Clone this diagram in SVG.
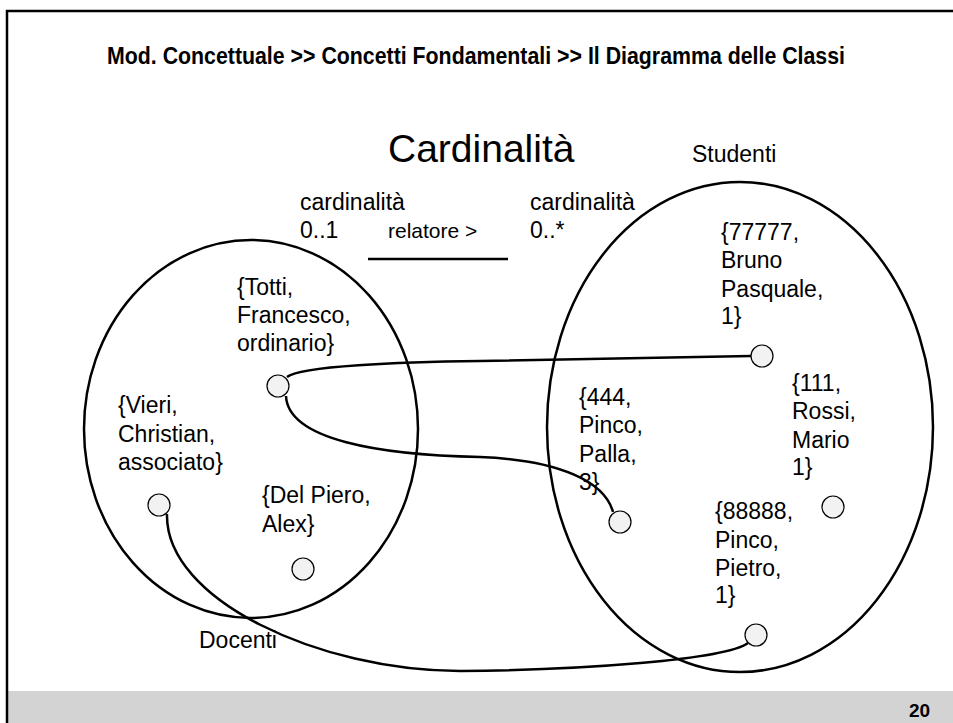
<svg xmlns="http://www.w3.org/2000/svg" width="953" height="723" viewBox="0 0 953 723">
  <style>
    text { font-family: "Liberation Sans", Arial, sans-serif; fill: #000; }
    .hdr { font-size: 23px; font-weight: bold; }
    .title { font-size: 39px; }
    .lbl { font-size: 23px; }
    .rel { font-size: 21px; }
    .pg { font-size: 19px; font-weight: bold; }
    .set { fill: none; stroke: #000; stroke-width: 2.5; }
    .obj { fill: #f2f2f2; stroke: #000; stroke-width: 1.2; }
    .link { fill: none; stroke: #000; stroke-width: 2.5; }
  </style>

  <!-- slide frame and footer -->
  <rect x="0" y="0" width="953" height="723" fill="#fff"/>
  <rect x="7" y="691" width="946" height="32" fill="#d3d3d3"/>
  <path d="M7,723 V11 H953" fill="none" stroke="#000" stroke-width="2.5"/>
  <text class="pg" x="909" y="717">20</text>

  <text class="hdr" x="107" y="64" textLength="738" lengthAdjust="spacingAndGlyphs">Mod. Concettuale &gt;&gt; Concetti Fondamentali &gt;&gt; Il Diagramma delle Classi</text>
  <text class="title" x="388" y="162">Cardinalità</text>

  <!-- association labels -->
  <g id="assoc">
    <text class="lbl" x="300" y="210">cardinalità</text>
    <text class="lbl" x="300" y="238">0..1</text>
    <text class="rel" x="388" y="238">relatore &gt;</text>
    <line x1="368" y1="259" x2="508" y2="259" stroke="#000" stroke-width="2.5"/>
    <text class="lbl" x="530" y="210">cardinalità</text>
    <text class="lbl" x="530" y="238">0..*</text>
  </g>

  <!-- sets -->
  <g id="docenti">
    <ellipse class="set" cx="251" cy="429" rx="167" ry="189"/>
    <text class="lbl" x="199" y="648">Docenti</text>
  </g>
  <g id="studenti">
    <ellipse class="set" cx="740" cy="427" rx="193" ry="245"/>
    <text class="lbl" x="692" y="162">Studenti</text>
  </g>

  <!-- links between objects -->
  <g id="links">
    <path class="link" d="M287,377 C300,366 400,362 480,361 L751,356"/>
    <path class="link" d="M286,396 C288,440 380,455 480,457 C560,460 605,482 613,512"/>
    <path class="link" d="M167,514 C165,600 320,671 460,671 C580,670 725,660 748,643"/>
  </g>

  <!-- Docenti objects -->
  <g id="totti">
    <text class="lbl" x="237" y="295">{Totti,</text>
    <text class="lbl" x="237" y="323">Francesco,</text>
    <text class="lbl" x="237" y="351">ordinario}</text>
    <circle class="obj" cx="278" cy="386" r="11"/>
  </g>
  <g id="vieri">
    <text class="lbl" x="118" y="413">{Vieri,</text>
    <text class="lbl" x="118" y="442">Christian,</text>
    <text class="lbl" x="118" y="470">associato}</text>
    <circle class="obj" cx="159" cy="505" r="11"/>
  </g>
  <g id="delpiero">
    <text class="lbl" x="262" y="503">{Del Piero,</text>
    <text class="lbl" x="262" y="532">Alex}</text>
    <circle class="obj" cx="303" cy="569" r="11"/>
  </g>

  <!-- Studenti objects -->
  <g id="s77777">
    <text class="lbl" x="721" y="240">{77777,</text>
    <text class="lbl" x="721" y="268">Bruno</text>
    <text class="lbl" x="721" y="297">Pasquale,</text>
    <text class="lbl" x="721" y="324">1}</text>
    <circle class="obj" cx="762" cy="356" r="11"/>
  </g>
  <g id="s444">
    <text class="lbl" x="579" y="405">{444,</text>
    <text class="lbl" x="579" y="433">Pinco,</text>
    <text class="lbl" x="579" y="462">Palla,</text>
    <text class="lbl" x="579" y="490">3}</text>
    <circle class="obj" cx="620" cy="522" r="11"/>
  </g>
  <g id="s111">
    <text class="lbl" x="792" y="391">{111,</text>
    <text class="lbl" x="792" y="419">Rossi,</text>
    <text class="lbl" x="792" y="448">Mario</text>
    <text class="lbl" x="792" y="475">1}</text>
    <circle class="obj" cx="833" cy="507" r="11"/>
  </g>
  <g id="s88888">
    <text class="lbl" x="715" y="519">{88888,</text>
    <text class="lbl" x="715" y="548">Pinco,</text>
    <text class="lbl" x="715" y="576">Pietro,</text>
    <text class="lbl" x="715" y="603">1}</text>
    <circle class="obj" cx="756" cy="635" r="11"/>
  </g>
</svg>
